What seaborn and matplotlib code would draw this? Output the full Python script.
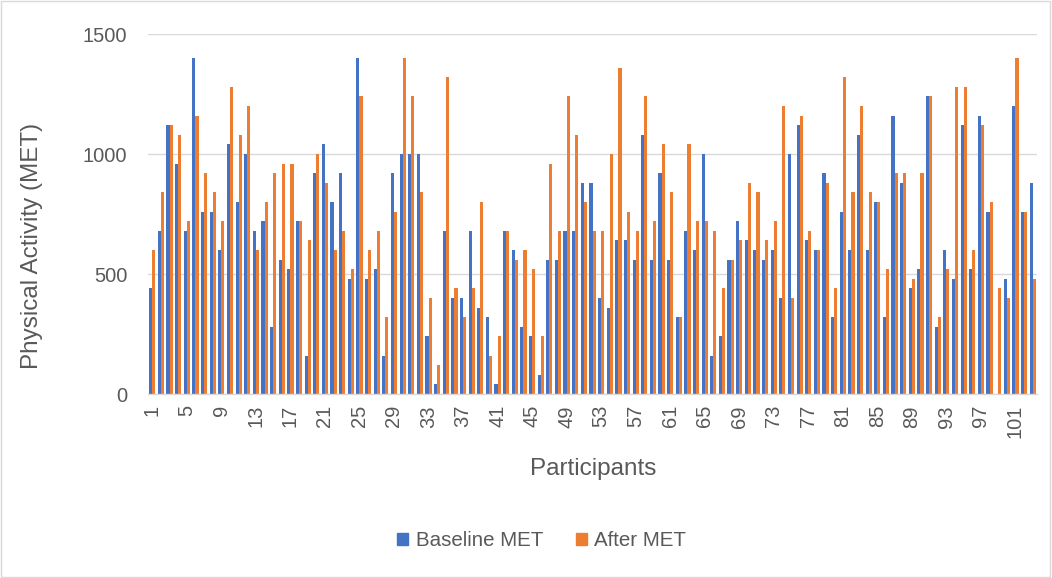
import matplotlib
matplotlib.use("Agg")
import matplotlib.pyplot as plt
from matplotlib.patches import Rectangle
import seaborn as sns
import pandas as pd
import numpy as np

participants = list(range(1, 104))
baseline_met = [
    440, 680, 1120, 960, 680, 1400, 760, 760, 600, 1040,
    800, 1000, 680, 720, 280, 560, 520, 720, 160, 920,
    1040, 800, 920, 480, 1400, 480, 520, 160, 920, 1000,
    1000, 1000, 240, 40, 680, 400, 400, 680, 360, 320,
    40, 680, 600, 280, 240, 80, 560, 560, 680, 680,
    880, 880, 400, 360, 640, 640, 560, 1080, 560, 920,
    560, 320, 680, 600, 1000, 160, 240, 560, 720, 640,
    600, 560, 600, 400, 1000, 1120, 640, 600, 920, 320,
    760, 600, 1080, 600, 800, 320, 1160, 880, 440, 520,
    1240, 280, 600, 480, 1120, 520, 1160, 760, 0, 480,
    1200, 760, 880,
]
after_met = [
    600, 840, 1120, 1080, 720, 1160, 920, 840, 720, 1280,
    1080, 1200, 600, 800, 920, 960, 960, 720, 640, 1000,
    880, 600, 680, 520, 1240, 600, 680, 320, 760, 1400,
    1240, 840, 400, 120, 1320, 440, 320, 440, 800, 160,
    240, 680, 560, 600, 520, 240, 960, 680, 1240, 1080,
    800, 680, 680, 1000, 1360, 760, 680, 1240, 720, 1040,
    840, 320, 1040, 720, 720, 680, 440, 560, 640, 880,
    840, 640, 720, 1200, 400, 1160, 680, 600, 880, 440,
    1320, 840, 1200, 840, 800, 520, 920, 920, 480, 920,
    1240, 320, 520, 1280, 1280, 600, 1120, 800, 440, 400,
    1400, 760, 480,
]
series_names = ["Baseline MET", "After MET"]
y_ticks = [0, 500, 1000, 1500]

df = pd.DataFrame({
    "Participant": participants * 2,
    "Series": [series_names[0]] * len(participants) + [series_names[1]] * len(participants),
    "MET": baseline_met + after_met,
})
df["Participant"] = pd.Categorical(df["Participant"], categories=participants, ordered=True)

sns.set_theme(style="white")
plt.rcParams["font.family"] = ["Liberation Sans", "DejaVu Sans"]
text_color = "#595959"

fig = plt.figure(figsize=(10.52, 5.78), dpi=100)
ax = fig.add_axes([148 / 1052, 1 - 394 / 578, (1037 - 148) / 1052, (394 - 34) / 578])

sns.barplot(
    data=df, x="Participant", y="MET", hue="Series", hue_order=series_names,
    palette=["#4472C4", "#ED7D31"], width=0.72, ax=ax, errorbar=None,
    saturation=1, linewidth=0,
)

ax.set_ylim(0, 1500)
ax.set_yticks(y_ticks)
ax.set_yticklabels([str(t) for t in y_ticks], fontsize=14.5, color=text_color)
ax.set_xlim(-0.5, len(participants) - 0.5)
pos = list(range(0, len(participants), 4))
ax.set_xticks(pos)
ax.set_xticklabels([str(participants[i]) for i in pos], rotation=90, fontsize=14.5, color=text_color)
ax.tick_params(axis="y", length=0, pad=15)
ax.tick_params(axis="x", length=0, pad=8)
ax.yaxis.grid(True, color="#D9D9D9", linewidth=1)
ax.set_axisbelow(True)
for s in ["top", "right", "left"]:
    ax.spines[s].set_visible(False)
ax.spines["bottom"].set_color("#D9D9D9")
ax.spines["bottom"].set_linewidth(1)

ax.set_ylabel("Physical Activity (MET)", fontsize=17.5, color=text_color)
ax.set_xlabel("Participants", fontsize=17.5, color=text_color)
ax.yaxis.set_label_coords((43 - 148) / 889, (394 - 246) / 360)
ax.xaxis.set_label_coords((593 - 148) / 889, (394 - 458) / 360)

ax.legend_.remove()
handles = [Rectangle((0, 0), 1, 1, color=c) for c in ["#4472C4", "#ED7D31"]]
fig.legend(handles, series_names, loc="center", bbox_to_anchor=(0.515, 1 - 541 / 578),
           ncol=2, frameon=False, fontsize=14.8, labelcolor=text_color,
           handlelength=0.55, handleheight=0.55, columnspacing=1.6, handletextpad=0.35)

fig.patches.append(Rectangle((0.001, 0.001), 0.997, 0.997, transform=fig.transFigure,
                             fill=False, edgecolor="#D9D9D9", linewidth=1))

fig.savefig("out.png", dpi=100)
